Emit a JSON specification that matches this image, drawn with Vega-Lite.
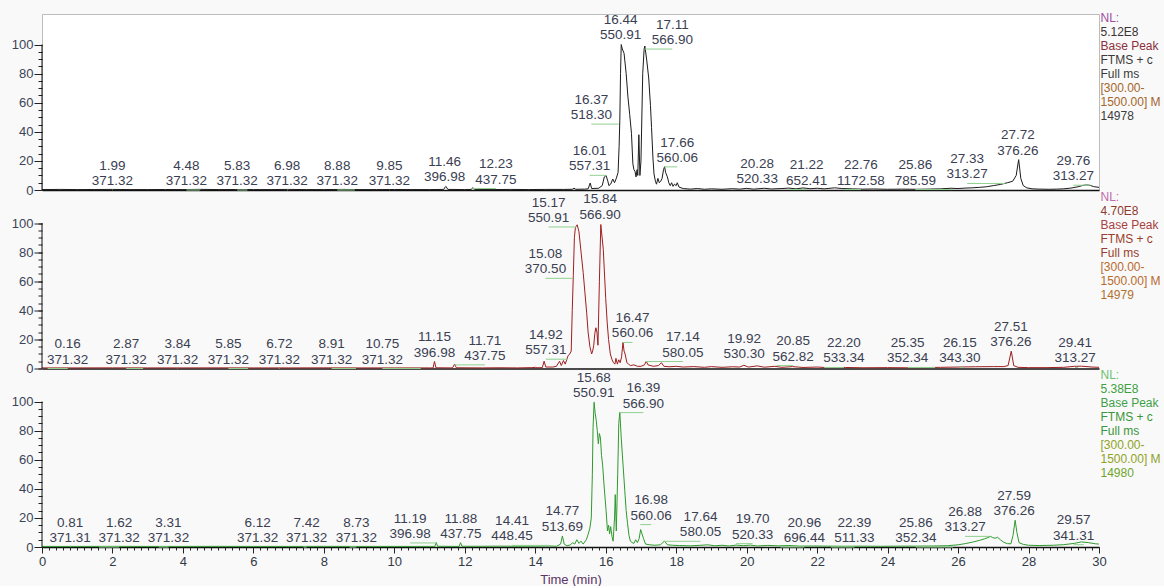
{
"$schema": "https://vega.github.io/schema/vega-lite/v6.json",
"background": "#f9f9f9",
"padding": {"left": 10, "top": 11, "right": 0, "bottom": 0},
"bounds": "flush",
"spacing": 2.5,
"config": {"font": "Liberation Sans", "view": {"stroke": null}, "axis": {"labelFlush": false, "labelOverlap": false}},
"datasets": {
"t1": [{"t":0,"i":0.3},{"t":0.5,"i":0.4},{"t":1,"i":0.3},{"t":1.5,"i":0.35},{"t":2,"i":0.4},{"t":2.5,"i":0.3},{"t":3,"i":0.3},{"t":3.5,"i":0.35},{"t":4,"i":0.3},{"t":4.5,"i":0.45},{"t":5,"i":0.3},{"t":5.5,"i":0.35},{"t":6,"i":0.3},{"t":6.5,"i":0.3},{"t":7,"i":0.4},{"t":7.5,"i":0.3},{"t":8,"i":0.3},{"t":8.5,"i":0.4},{"t":9,"i":0.3},{"t":9.5,"i":0.3},{"t":10,"i":0.35},{"t":10.5,"i":0.3},{"t":11,"i":0.3},{"t":11.4,"i":0.4},{"t":11.46,"i":2.6},{"t":11.52,"i":0.4},{"t":12.0,"i":0.3},{"t":12.18,"i":0.4},{"t":12.23,"i":1.6},{"t":12.28,"i":0.4},{"t":12.8,"i":0.3},{"t":13.3,"i":0.4},{"t":13.8,"i":0.3},{"t":14.3,"i":0.4},{"t":14.8,"i":0.4},{"t":15.05,"i":0.5},{"t":15.1,"i":1.2},{"t":15.15,"i":0.5},{"t":15.4,"i":0.6},{"t":15.5,"i":0.8},{"t":15.56,"i":4.8},{"t":15.6,"i":1.0},{"t":15.8,"i":1.2},{"t":15.9,"i":3},{"t":15.96,"i":9},{"t":16.01,"i":10},{"t":16.06,"i":6},{"t":16.09,"i":3},{"t":16.14,"i":4},{"t":16.2,"i":7.5},{"t":16.25,"i":5},{"t":16.3,"i":8},{"t":16.35,"i":12},{"t":16.38,"i":30},{"t":16.4,"i":48},{"t":16.42,"i":80},{"t":16.44,"i":100},{"t":16.47,"i":97},{"t":16.52,"i":94},{"t":16.58,"i":80},{"t":16.63,"i":64},{"t":16.68,"i":52},{"t":16.73,"i":39},{"t":16.77,"i":18},{"t":16.8,"i":14},{"t":16.83,"i":13},{"t":16.86,"i":9},{"t":16.89,"i":14},{"t":16.91,"i":10},{"t":16.94,"i":38},{"t":16.97,"i":10},{"t":17.0,"i":20},{"t":17.05,"i":80},{"t":17.09,"i":97},{"t":17.11,"i":99},{"t":17.16,"i":90},{"t":17.22,"i":77},{"t":17.27,"i":58},{"t":17.3,"i":43},{"t":17.34,"i":22},{"t":17.37,"i":11},{"t":17.41,"i":6},{"t":17.44,"i":4},{"t":17.48,"i":8},{"t":17.52,"i":5},{"t":17.56,"i":6},{"t":17.6,"i":8},{"t":17.64,"i":14},{"t":17.67,"i":16},{"t":17.7,"i":12},{"t":17.75,"i":9},{"t":17.79,"i":5},{"t":17.83,"i":3},{"t":17.87,"i":5},{"t":17.91,"i":2.5},{"t":17.95,"i":4},{"t":18.0,"i":3},{"t":18.03,"i":5},{"t":18.08,"i":2},{"t":18.2,"i":1},{"t":18.4,"i":0.6},{"t":18.6,"i":1.0},{"t":18.8,"i":0.5},{"t":19.0,"i":0.8},{"t":19.3,"i":0.5},{"t":19.6,"i":0.9},{"t":19.8,"i":0.6},{"t":20.0,"i":1.1},{"t":20.2,"i":0.6},{"t":20.5,"i":1.2},{"t":20.7,"i":0.7},{"t":21.0,"i":1.0},{"t":21.2,"i":1.3},{"t":21.4,"i":0.8},{"t":21.6,"i":1.4},{"t":21.8,"i":0.9},{"t":22.0,"i":1.2},{"t":22.2,"i":0.8},{"t":22.5,"i":1.5},{"t":22.7,"i":1.0},{"t":23.0,"i":0.8},{"t":23.3,"i":0.6},{"t":23.6,"i":0.7},{"t":24.0,"i":0.5},{"t":24.4,"i":0.6},{"t":24.8,"i":0.5},{"t":25.1,"i":0.6},{"t":25.5,"i":0.8},{"t":25.8,"i":1.2},{"t":26.0,"i":1.0},{"t":26.2,"i":1.3},{"t":26.4,"i":1.5},{"t":26.6,"i":1.8},{"t":26.8,"i":2.2},{"t":27.0,"i":3.0},{"t":27.2,"i":3.8},{"t":27.4,"i":5.0},{"t":27.55,"i":6.0},{"t":27.65,"i":10},{"t":27.72,"i":21},{"t":27.78,"i":8},{"t":27.85,"i":3},{"t":27.95,"i":1.5},{"t":28.1,"i":0.8},{"t":28.3,"i":0.6},{"t":28.6,"i":0.5},{"t":28.8,"i":0.6},{"t":29.0,"i":0.8},{"t":29.2,"i":1.3},{"t":29.4,"i":2.2},{"t":29.55,"i":3.2},{"t":29.65,"i":3.5},{"t":29.75,"i":3.2},{"t":29.85,"i":2.3},{"t":30,"i":1.8}],
"t2": [{"t":0,"i":0.4},{"t":1,"i":0.4},{"t":2,"i":0.45},{"t":3,"i":0.4},{"t":4,"i":0.4},{"t":5,"i":0.45},{"t":6,"i":0.4},{"t":7,"i":0.4},{"t":8,"i":0.45},{"t":9,"i":0.4},{"t":10,"i":0.4},{"t":11,"i":0.4},{"t":11.1,"i":0.4},{"t":11.14,"i":5},{"t":11.18,"i":0.5},{"t":11.65,"i":0.4},{"t":11.71,"i":3},{"t":11.76,"i":0.5},{"t":12.5,"i":0.4},{"t":13,"i":0.5},{"t":13.5,"i":0.4},{"t":13.9,"i":0.6},{"t":14.0,"i":0.8},{"t":14.05,"i":0.5},{"t":14.2,"i":0.6},{"t":14.25,"i":5},{"t":14.3,"i":1},{"t":14.5,"i":1},{"t":14.6,"i":1.5},{"t":14.69,"i":5},{"t":14.74,"i":2},{"t":14.8,"i":5.5},{"t":14.85,"i":3},{"t":14.93,"i":8.7},{"t":14.98,"i":10},{"t":15.02,"i":12},{"t":15.05,"i":40},{"t":15.08,"i":64},{"t":15.11,"i":90},{"t":15.14,"i":97},{"t":15.19,"i":98.8},{"t":15.24,"i":94},{"t":15.3,"i":80},{"t":15.36,"i":66},{"t":15.41,"i":52},{"t":15.46,"i":38},{"t":15.5,"i":25},{"t":15.55,"i":15},{"t":15.6,"i":10},{"t":15.63,"i":12},{"t":15.66,"i":16},{"t":15.69,"i":24},{"t":15.72,"i":28},{"t":15.75,"i":25},{"t":15.78,"i":16},{"t":15.82,"i":60},{"t":15.86,"i":99},{"t":15.93,"i":82},{"t":16.0,"i":48},{"t":16.04,"i":32},{"t":16.08,"i":20},{"t":16.13,"i":10},{"t":16.18,"i":6},{"t":16.22,"i":4},{"t":16.26,"i":3},{"t":16.29,"i":7},{"t":16.33,"i":3},{"t":16.37,"i":6},{"t":16.41,"i":4},{"t":16.45,"i":8},{"t":16.49,"i":18},{"t":16.52,"i":12},{"t":16.55,"i":10},{"t":16.6,"i":4},{"t":16.65,"i":3},{"t":16.7,"i":2},{"t":16.8,"i":2.5},{"t":16.9,"i":1.5},{"t":17.0,"i":1.5},{"t":17.1,"i":2.5},{"t":17.15,"i":5},{"t":17.2,"i":2.5},{"t":17.35,"i":1.5},{"t":17.5,"i":2},{"t":17.58,"i":4},{"t":17.65,"i":1.5},{"t":17.8,"i":1.2},{"t":18.0,"i":1.5},{"t":18.2,"i":1},{"t":18.5,"i":1.3},{"t":18.8,"i":0.8},{"t":19.0,"i":1.3},{"t":19.3,"i":0.8},{"t":19.6,"i":1.2},{"t":19.8,"i":1.0},{"t":19.92,"i":2.2},{"t":20.05,"i":1.0},{"t":20.3,"i":1.8},{"t":20.5,"i":0.9},{"t":20.8,"i":1.5},{"t":21.0,"i":0.8},{"t":21.3,"i":1.3},{"t":21.6,"i":0.7},{"t":22.0,"i":1.0},{"t":22.3,"i":0.6},{"t":22.8,"i":0.7},{"t":23.3,"i":0.5},{"t":24.0,"i":0.6},{"t":24.5,"i":0.5},{"t":25.0,"i":0.6},{"t":25.5,"i":0.8},{"t":26.0,"i":1.0},{"t":26.5,"i":1.2},{"t":27.0,"i":1.3},{"t":27.3,"i":1.3},{"t":27.42,"i":2},{"t":27.51,"i":12},{"t":27.58,"i":2},{"t":27.7,"i":0.8},{"t":28.0,"i":0.6},{"t":28.5,"i":0.6},{"t":29.0,"i":0.8},{"t":29.3,"i":1.5},{"t":29.5,"i":1.6},{"t":29.8,"i":1.0},{"t":30,"i":0.8}],
"t3": [{"t":0,"i":0.4},{"t":1,"i":0.4},{"t":2,"i":0.45},{"t":3,"i":0.4},{"t":4,"i":0.4},{"t":5,"i":0.45},{"t":6,"i":0.4},{"t":7,"i":0.4},{"t":8,"i":0.45},{"t":9,"i":0.4},{"t":10,"i":0.4},{"t":11,"i":0.4},{"t":11.15,"i":0.4},{"t":11.19,"i":3},{"t":11.23,"i":0.5},{"t":11.84,"i":0.4},{"t":11.88,"i":3},{"t":11.92,"i":0.5},{"t":12.5,"i":0.5},{"t":13.0,"i":0.6},{"t":13.5,"i":0.5},{"t":14.0,"i":0.6},{"t":14.4,"i":0.7},{"t":14.6,"i":0.5},{"t":14.72,"i":2},{"t":14.77,"i":7.6},{"t":14.82,"i":2},{"t":14.9,"i":0.8},{"t":15.0,"i":1.5},{"t":15.06,"i":3},{"t":15.12,"i":2},{"t":15.18,"i":5},{"t":15.24,"i":2.5},{"t":15.3,"i":4},{"t":15.36,"i":2},{"t":15.45,"i":5},{"t":15.5,"i":8.7},{"t":15.55,"i":13},{"t":15.59,"i":20},{"t":15.62,"i":50},{"t":15.64,"i":82},{"t":15.67,"i":99.5},{"t":15.7,"i":92},{"t":15.73,"i":87},{"t":15.76,"i":80},{"t":15.79,"i":71},{"t":15.82,"i":78},{"t":15.85,"i":75},{"t":15.88,"i":63},{"t":15.91,"i":57},{"t":15.96,"i":40},{"t":16.01,"i":25},{"t":16.05,"i":11},{"t":16.08,"i":15},{"t":16.11,"i":9},{"t":16.14,"i":14},{"t":16.18,"i":7},{"t":16.21,"i":4},{"t":16.25,"i":20},{"t":16.27,"i":36},{"t":16.3,"i":11},{"t":16.34,"i":50},{"t":16.37,"i":85},{"t":16.4,"i":92.6},{"t":16.44,"i":75},{"t":16.49,"i":57},{"t":16.54,"i":39},{"t":16.58,"i":25},{"t":16.62,"i":16},{"t":16.66,"i":8},{"t":16.7,"i":4},{"t":16.75,"i":3},{"t":16.8,"i":2.5},{"t":16.85,"i":5},{"t":16.9,"i":3},{"t":16.95,"i":6},{"t":16.99,"i":12},{"t":17.03,"i":9},{"t":17.07,"i":6},{"t":17.13,"i":2},{"t":17.25,"i":1.5},{"t":17.4,"i":1.2},{"t":17.55,"i":1.5},{"t":17.62,"i":3},{"t":17.67,"i":4},{"t":17.75,"i":1.5},{"t":17.9,"i":1.2},{"t":18.1,"i":1.0},{"t":18.4,"i":0.8},{"t":18.7,"i":1.2},{"t":18.9,"i":1.5},{"t":19.1,"i":0.8},{"t":19.3,"i":1.2},{"t":19.5,"i":0.7},{"t":19.7,"i":1.3},{"t":19.9,"i":0.9},{"t":20.1,"i":1.3},{"t":20.3,"i":0.7},{"t":20.6,"i":1.1},{"t":20.9,"i":0.8},{"t":21.2,"i":1.0},{"t":21.5,"i":0.6},{"t":21.9,"i":0.7},{"t":22.3,"i":0.6},{"t":22.8,"i":0.5},{"t":23.3,"i":0.6},{"t":23.8,"i":0.5},{"t":24.3,"i":0.6},{"t":24.8,"i":0.6},{"t":25.3,"i":0.7},{"t":25.7,"i":0.9},{"t":26.0,"i":1.5},{"t":26.2,"i":2.3},{"t":26.4,"i":3.3},{"t":26.6,"i":4.5},{"t":26.75,"i":5.6},{"t":26.85,"i":6.5},{"t":26.92,"i":7.3},{"t":26.98,"i":6.5},{"t":27.05,"i":6.0},{"t":27.12,"i":6.7},{"t":27.2,"i":5.0},{"t":27.3,"i":3.2},{"t":27.4,"i":2.3},{"t":27.5,"i":2.2},{"t":27.56,"i":8},{"t":27.62,"i":18.4},{"t":27.67,"i":10},{"t":27.73,"i":3},{"t":27.85,"i":1.8},{"t":28.0,"i":1.2},{"t":28.3,"i":1.0},{"t":28.7,"i":1.2},{"t":29.0,"i":1.6},{"t":29.3,"i":2.5},{"t":29.5,"i":3.5},{"t":29.7,"i":3.0},{"t":29.9,"i":2.2},{"t":30,"i":2}],
"l1": [{"rt":1.99,"mz":"371.32","lx":2.00,"ly":0},{"rt":4.48,"mz":"371.32","lx":4.10,"ly":0},{"rt":5.83,"mz":"371.32","lx":5.54,"ly":0},{"rt":6.98,"mz":"371.32","lx":6.96,"ly":0},{"rt":8.88,"mz":"371.32","lx":8.38,"ly":0},{"rt":9.85,"mz":"371.32","lx":9.86,"ly":0},{"rt":11.46,"mz":"396.98","lx":11.43,"ly":2.6},{"rt":12.23,"mz":"437.75","lx":12.88,"ly":1.0},{"rt":16.01,"mz":"557.31","lx":15.54,"ly":10.1},{"rt":16.37,"mz":"518.30","lx":15.59,"ly":45.3},{"rt":16.44,"mz":"550.91","lx":16.42,"ly":100.1},{"rt":17.11,"mz":"566.90","lx":17.89,"ly":96.9},{"rt":17.66,"mz":"560.06","lx":18.03,"ly":15.9},{"rt":20.28,"mz":"520.33","lx":20.30,"ly":1.5},{"rt":21.22,"mz":"652.41","lx":21.70,"ly":0.3},{"rt":22.76,"mz":"1172.58","lx":23.24,"ly":0.3},{"rt":25.86,"mz":"785.59","lx":24.79,"ly":0.3},{"rt":27.33,"mz":"313.27","lx":26.26,"ly":4.5},{"rt":27.72,"mz":"376.26","lx":27.70,"ly":20.9},{"rt":29.76,"mz":"313.27","lx":29.27,"ly":3.3}],
"l2": [{"rt":0.16,"mz":"371.32","lx":0.73,"ly":0},{"rt":2.87,"mz":"371.32","lx":2.39,"ly":0},{"rt":3.84,"mz":"371.32","lx":3.85,"ly":0},{"rt":5.85,"mz":"371.32","lx":5.29,"ly":0},{"rt":6.72,"mz":"371.32","lx":6.74,"ly":0},{"rt":8.91,"mz":"371.32","lx":8.22,"ly":0},{"rt":10.75,"mz":"371.32","lx":9.66,"ly":0},{"rt":11.15,"mz":"396.98","lx":11.14,"ly":4.8},{"rt":11.71,"mz":"437.75","lx":12.57,"ly":2.5},{"rt":14.92,"mz":"557.31","lx":14.30,"ly":6.4},{"rt":15.08,"mz":"370.50","lx":14.29,"ly":62},{"rt":15.17,"mz":"550.91","lx":14.38,"ly":97.3},{"rt":15.84,"mz":"566.90","lx":15.84,"ly":99.6},{"rt":16.47,"mz":"560.06","lx":16.76,"ly":17.9},{"rt":17.14,"mz":"580.05","lx":18.19,"ly":4.8},{"rt":19.92,"mz":"530.30","lx":19.93,"ly":3.6},{"rt":20.85,"mz":"562.82","lx":21.32,"ly":2},{"rt":22.20,"mz":"533.34","lx":22.76,"ly":0.7},{"rt":25.35,"mz":"352.34","lx":24.57,"ly":0.7},{"rt":26.15,"mz":"343.30","lx":26.05,"ly":0.7},{"rt":27.51,"mz":"376.26","lx":27.50,"ly":11.7},{"rt":29.41,"mz":"313.27","lx":29.32,"ly":0.7}],
"l3": [{"rt":0.81,"mz":"371.31","lx":0.80,"ly":0},{"rt":1.62,"mz":"371.32","lx":2.19,"ly":0},{"rt":3.31,"mz":"371.32","lx":3.59,"ly":0},{"rt":6.12,"mz":"371.32","lx":6.12,"ly":0},{"rt":7.42,"mz":"371.32","lx":7.51,"ly":0},{"rt":8.73,"mz":"371.32","lx":8.92,"ly":0},{"rt":11.19,"mz":"396.98","lx":10.45,"ly":2.8},{"rt":11.88,"mz":"437.75","lx":11.89,"ly":2.8},{"rt":14.41,"mz":"448.45","lx":13.34,"ly":1.1},{"rt":14.77,"mz":"513.69","lx":14.77,"ly":7.8},{"rt":15.68,"mz":"550.91","lx":15.66,"ly":99.7},{"rt":16.39,"mz":"566.90","lx":17.07,"ly":92.4},{"rt":16.98,"mz":"560.06","lx":17.29,"ly":15.4},{"rt":17.64,"mz":"580.05","lx":18.69,"ly":3.9},{"rt":19.70,"mz":"520.33","lx":20.17,"ly":2.3},{"rt":20.96,"mz":"696.44","lx":21.64,"ly":0},{"rt":22.39,"mz":"511.33","lx":23.06,"ly":0},{"rt":25.86,"mz":"352.34","lx":24.80,"ly":0},{"rt":26.88,"mz":"313.27","lx":26.20,"ly":7.3},{"rt":27.59,"mz":"376.26","lx":27.59,"ly":18.3},{"rt":29.57,"mz":"341.31","lx":29.28,"ly":1.6}],
"info": [
{"p":1,"line":0,"k":"1a","text":"NL:"},{"p":1,"line":1,"k":"1b","text":"5.12E8"},{"p":1,"line":2,"k":"1c","text":"Base Peak F: ms"},{"p":1,"line":3,"k":"1d","text":"FTMS + c NSI"},{"p":1,"line":4,"k":"1d","text":"Full ms"},{"p":1,"line":5,"k":"1e","text":"[300.00-"},{"p":1,"line":6,"k":"1e","text":"1500.00]  MS"},{"p":1,"line":7,"k":"1f","text":"14978"},
{"p":2,"line":0,"k":"2a","text":"NL:"},{"p":2,"line":1,"k":"2b","text":"4.70E8"},{"p":2,"line":2,"k":"2c","text":"Base Peak F: ms"},{"p":2,"line":3,"k":"2d","text":"FTMS + c NSI"},{"p":2,"line":4,"k":"2d","text":"Full ms"},{"p":2,"line":5,"k":"2e","text":"[300.00-"},{"p":2,"line":6,"k":"2e","text":"1500.00]  MS"},{"p":2,"line":7,"k":"2f","text":"14979"},
{"p":3,"line":0,"k":"3a","text":"NL:"},{"p":3,"line":1,"k":"3b","text":"5.38E8"},{"p":3,"line":2,"k":"3c","text":"Base Peak F: ms"},{"p":3,"line":3,"k":"3d","text":"FTMS + c NSI"},{"p":3,"line":4,"k":"3d","text":"Full ms"},{"p":3,"line":5,"k":"3e","text":"[300.00-"},{"p":3,"line":6,"k":"3e","text":"1500.00]  MS"},{"p":3,"line":7,"k":"3f","text":"14980"}
]
},
"vconcat": [
{
"width": 1057, "height": 176,
"view": {"stroke": "#bcbcbc", "fill": "#ffffff"},
"resolve": {"scale": {"x": "independent", "y": "independent"}, "axis": {"x": "independent", "y": "independent"}},
"layer": [
{"data": {"name": "t1"}, "mark": {"type": "line", "color": "#1c1c1c", "strokeWidth": 1},
 "encoding": {
  "x": {"field": "t", "type": "quantitative", "scale": {"domain": [0, 30], "nice": false, "zero": false}, "axis": {"orient": "bottom", "labels": false, "ticks": false, "domain": true, "domainColor": "#111111", "domainWidth": 1.5, "grid": false, "title": null}},
  "y": {"field": "i", "type": "quantitative", "scale": {"domain": [0, 121], "nice": false}, "axis": {"orient": "left", "values": [0, 20, 40, 60, 80, 100], "tickSize": 8, "tickColor": "#222222", "domain": false, "grid": false, "title": null, "labelFontSize": 13, "labelColor": "#3a4458", "labelPadding": 1}}}},
{"data": {"name": "l1"}, "mark": {"type": "rule", "color": "#8fd08f", "strokeWidth": 1},
 "encoding": {
  "x": {"field": "lx", "type": "quantitative", "scale": {"domain": [0, 30], "nice": false, "zero": false}, "axis": null},
  "x2": {"field": "rt"},
  "y": {"field": "ly", "type": "quantitative", "scale": {"domain": [0, 121], "nice": false}, "axis": {"orient": "left", "values": [0,5,10,15,20,25,30,35,40,45,50,55,60,65,70,75,80,85,90,95,100], "labels": false, "tickSize": 4, "tickColor": "#222222", "domain": false, "grid": false, "title": null}}}},
{"data": {"name": "l1"}, "mark": {"type": "text", "fontSize": 13.5, "dy": -5, "baseline": "alphabetic", "color": "#3a4052"},
 "encoding": {
  "x": {"field": "lx", "type": "quantitative", "scale": {"domain": [0, 30], "nice": false, "zero": false}, "axis": null},
  "y": {"field": "ly", "type": "quantitative", "scale": {"domain": [0, 121], "nice": false}, "axis": null},
  "text": {"field": "mz"}}},
{"data": {"name": "l1"}, "mark": {"type": "text", "fontSize": 13.5, "dy": -20.3, "baseline": "alphabetic", "color": "#3a4052"},
 "encoding": {
  "x": {"field": "lx", "type": "quantitative", "scale": {"domain": [0, 30], "nice": false, "zero": false}, "axis": null},
  "y": {"field": "ly", "type": "quantitative", "scale": {"domain": [0, 121], "nice": false}, "axis": null},
  "text": {"field": "rt", "type": "quantitative", "format": ".2f"}}},
{"data": {"values": [{}]}, "mark": {"type": "rule", "color": "#111111", "strokeWidth": 1},
 "encoding": {
  "x": {"datum": 0, "type": "quantitative", "scale": {"domain": [0, 30], "nice": false, "zero": false}, "axis": null},
  "y": {"datum": 0, "type": "quantitative", "scale": {"domain": [0, 121], "nice": false}, "axis": null},
  "y2": {"datum": 100}}},
{"data": {"name": "info"}, "transform": [{"filter": "datum.p == 1"}], "mark": {"type": "text", "align": "left", "baseline": "middle", "dx": 1.5, "fontSize": 12, "limit": 64, "ellipsis": "\u200b"},
 "encoding": {
  "x": {"datum": 30, "type": "quantitative", "scale": {"domain": [0, 30], "nice": false, "zero": false}, "axis": null},
  "y": {"field": "line", "type": "quantitative", "scale": {"domain": [-0.32, 12.25], "reverse": true, "nice": false, "zero": false}, "axis": null},
  "text": {"field": "text"},
  "color": {"field": "k", "type": "nominal", "legend": null, "scale": {"domain": ["1a","1b","1c","1d","1e","1f","2a","2b","2c","2d","2e","2f","3a","3b","3c","3d","3e","3f"], "range": ["#a050a0","#3c3434","#8c2f3c","#3a3a3a","#a5652b","#3c3c3c","#c46aa8","#8e3a2e","#a8413f","#9a3d2a","#b86a2e","#b0702e","#6fbf6f","#3fa03f","#3f9f4a","#3a963a","#8fa31f","#6fa52a"]}}}}
]
},
{
"width": 1057, "height": 176,
"resolve": {"scale": {"x": "independent", "y": "independent"}, "axis": {"x": "independent", "y": "independent"}},
"layer": [
{"data": {"name": "t2"}, "mark": {"type": "line", "color": "#9e1f1f", "strokeWidth": 1},
 "encoding": {
  "x": {"field": "t", "type": "quantitative", "scale": {"domain": [0, 30], "nice": false, "zero": false}, "axis": {"orient": "bottom", "labels": false, "ticks": false, "domain": true, "domainColor": "#111111", "domainWidth": 1.5, "grid": false, "title": null}},
  "y": {"field": "i", "type": "quantitative", "scale": {"domain": [0, 121], "nice": false}, "axis": {"orient": "left", "values": [0, 20, 40, 60, 80, 100], "tickSize": 8, "tickColor": "#222222", "domain": false, "grid": false, "title": null, "labelFontSize": 13, "labelColor": "#3a4458", "labelPadding": 1}}}},
{"data": {"name": "l2"}, "mark": {"type": "rule", "color": "#8fd08f", "strokeWidth": 1},
 "encoding": {
  "x": {"field": "lx", "type": "quantitative", "scale": {"domain": [0, 30], "nice": false, "zero": false}, "axis": null},
  "x2": {"field": "rt"},
  "y": {"field": "ly", "type": "quantitative", "scale": {"domain": [0, 121], "nice": false}, "axis": {"orient": "left", "values": [0,5,10,15,20,25,30,35,40,45,50,55,60,65,70,75,80,85,90,95,100], "labels": false, "tickSize": 4, "tickColor": "#222222", "domain": false, "grid": false, "title": null}}}},
{"data": {"name": "l2"}, "mark": {"type": "text", "fontSize": 13.5, "dy": -5, "baseline": "alphabetic", "color": "#3a4052"},
 "encoding": {
  "x": {"field": "lx", "type": "quantitative", "scale": {"domain": [0, 30], "nice": false, "zero": false}, "axis": null},
  "y": {"field": "ly", "type": "quantitative", "scale": {"domain": [0, 121], "nice": false}, "axis": null},
  "text": {"field": "mz"}}},
{"data": {"name": "l2"}, "mark": {"type": "text", "fontSize": 13.5, "dy": -20.3, "baseline": "alphabetic", "color": "#3a4052"},
 "encoding": {
  "x": {"field": "lx", "type": "quantitative", "scale": {"domain": [0, 30], "nice": false, "zero": false}, "axis": null},
  "y": {"field": "ly", "type": "quantitative", "scale": {"domain": [0, 121], "nice": false}, "axis": null},
  "text": {"field": "rt", "type": "quantitative", "format": ".2f"}}},
{"data": {"values": [{}]}, "mark": {"type": "rule", "color": "#111111", "strokeWidth": 1},
 "encoding": {
  "x": {"datum": 0, "type": "quantitative", "scale": {"domain": [0, 30], "nice": false, "zero": false}, "axis": null},
  "y": {"datum": 0, "type": "quantitative", "scale": {"domain": [0, 121], "nice": false}, "axis": null},
  "y2": {"datum": 100}}},
{"data": {"name": "info"}, "transform": [{"filter": "datum.p == 2"}], "mark": {"type": "text", "align": "left", "baseline": "middle", "dx": 1.5, "fontSize": 12, "limit": 64, "ellipsis": "\u200b"},
 "encoding": {
  "x": {"datum": 30, "type": "quantitative", "scale": {"domain": [0, 30], "nice": false, "zero": false}, "axis": null},
  "y": {"field": "line", "type": "quantitative", "scale": {"domain": [-0.32, 12.25], "reverse": true, "nice": false, "zero": false}, "axis": null},
  "text": {"field": "text"},
  "color": {"field": "k", "type": "nominal", "legend": null, "scale": {"domain": ["1a","1b","1c","1d","1e","1f","2a","2b","2c","2d","2e","2f","3a","3b","3c","3d","3e","3f"], "range": ["#a050a0","#3c3434","#8c2f3c","#3a3a3a","#a5652b","#3c3c3c","#c46aa8","#8e3a2e","#a8413f","#9a3d2a","#b86a2e","#b0702e","#6fbf6f","#3fa03f","#3f9f4a","#3a963a","#8fa31f","#6fa52a"]}}}}
]
},
{
"width": 1057, "height": 176,
"resolve": {"scale": {"x": "independent", "y": "independent"}, "axis": {"x": "independent", "y": "independent"}},
"layer": [
{"data": {"name": "t3"}, "mark": {"type": "line", "color": "#2e9a2e", "strokeWidth": 1},
 "encoding": {
  "x": {"field": "t", "type": "quantitative", "scale": {"domain": [0, 30], "nice": false, "zero": false}, "axis": {"orient": "bottom", "values": [0,2,4,6,8,10,12,14,16,18,20,22,24,26,28,30], "tickSize": 6, "tickColor": "#222222", "domain": true, "domainColor": "#111111", "domainWidth": 1.5, "grid": false, "labelFontSize": 13, "labelColor": "#333a48", "labelPadding": 2, "title": "Time (min)", "titleFontSize": 13, "titleFontWeight": "normal", "titleColor": "#5c3566", "titlePadding": 5}},
  "y": {"field": "i", "type": "quantitative", "scale": {"domain": [0, 121], "nice": false}, "axis": {"orient": "left", "values": [0, 20, 40, 60, 80, 100], "tickSize": 8, "tickColor": "#222222", "domain": false, "grid": false, "title": null, "labelFontSize": 13, "labelColor": "#3a4458", "labelPadding": 1}}}},
{"data": {"name": "l3"}, "mark": {"type": "rule", "color": "#8fd08f", "strokeWidth": 1},
 "encoding": {
  "x": {"field": "lx", "type": "quantitative", "scale": {"domain": [0, 30], "nice": false, "zero": false}, "axis": {"orient": "bottom", "tickCount": 150, "labels": false, "tickSize": 3, "tickColor": "#222222", "domain": false, "grid": false, "title": null}},
  "x2": {"field": "rt"},
  "y": {"field": "ly", "type": "quantitative", "scale": {"domain": [0, 121], "nice": false}, "axis": {"orient": "left", "values": [0,5,10,15,20,25,30,35,40,45,50,55,60,65,70,75,80,85,90,95,100], "labels": false, "tickSize": 4, "tickColor": "#222222", "domain": false, "grid": false, "title": null}}}},
{"data": {"name": "l3"}, "mark": {"type": "text", "fontSize": 13.5, "dy": -5, "baseline": "alphabetic", "color": "#3a4052"},
 "encoding": {
  "x": {"field": "lx", "type": "quantitative", "scale": {"domain": [0, 30], "nice": false, "zero": false}, "axis": null},
  "y": {"field": "ly", "type": "quantitative", "scale": {"domain": [0, 121], "nice": false}, "axis": null},
  "text": {"field": "mz"}}},
{"data": {"name": "l3"}, "mark": {"type": "text", "fontSize": 13.5, "dy": -20.3, "baseline": "alphabetic", "color": "#3a4052"},
 "encoding": {
  "x": {"field": "lx", "type": "quantitative", "scale": {"domain": [0, 30], "nice": false, "zero": false}, "axis": null},
  "y": {"field": "ly", "type": "quantitative", "scale": {"domain": [0, 121], "nice": false}, "axis": null},
  "text": {"field": "rt", "type": "quantitative", "format": ".2f"}}},
{"data": {"values": [{}]}, "mark": {"type": "rule", "color": "#111111", "strokeWidth": 1},
 "encoding": {
  "x": {"datum": 0, "type": "quantitative", "scale": {"domain": [0, 30], "nice": false, "zero": false}, "axis": null},
  "y": {"datum": 0, "type": "quantitative", "scale": {"domain": [0, 121], "nice": false}, "axis": null},
  "y2": {"datum": 100}}},
{"data": {"name": "info"}, "transform": [{"filter": "datum.p == 3"}], "mark": {"type": "text", "align": "left", "baseline": "middle", "dx": 1.5, "fontSize": 12, "limit": 64, "ellipsis": "\u200b"},
 "encoding": {
  "x": {"datum": 30, "type": "quantitative", "scale": {"domain": [0, 30], "nice": false, "zero": false}, "axis": null},
  "y": {"field": "line", "type": "quantitative", "scale": {"domain": [-0.32, 12.25], "reverse": true, "nice": false, "zero": false}, "axis": null},
  "text": {"field": "text"},
  "color": {"field": "k", "type": "nominal", "legend": null, "scale": {"domain": ["1a","1b","1c","1d","1e","1f","2a","2b","2c","2d","2e","2f","3a","3b","3c","3d","3e","3f"], "range": ["#a050a0","#3c3434","#8c2f3c","#3a3a3a","#a5652b","#3c3c3c","#c46aa8","#8e3a2e","#a8413f","#9a3d2a","#b86a2e","#b0702e","#6fbf6f","#3fa03f","#3f9f4a","#3a963a","#8fa31f","#6fa52a"]}}}}
]
}
]
}
